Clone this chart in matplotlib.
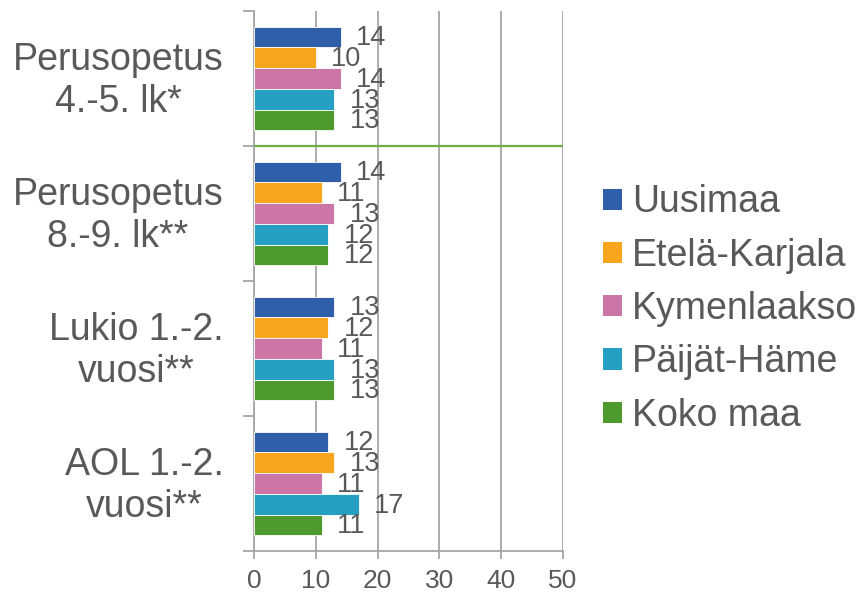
import matplotlib
matplotlib.use("Agg")
import matplotlib.pyplot as plt
from matplotlib.patches import Patch
import numpy as np

categories = ["Perusopetus\n4.-5. lk*", "Perusopetus\n8.-9. lk**", "Lukio 1.-2.\nvuosi**", "AOL 1.-2.\nvuosi**"]
series_names = ["Uusimaa", "Etelä-Karjala", "Kymenlaakso", "Päijät-Häme", "Koko maa"]
uusimaa = [14, 14, 13, 12]
etela_karjala = [10, 11, 12, 13]
kymenlaakso = [14, 13, 11, 11]
paijat_hame = [13, 12, 13, 17]
koko_maa = [13, 12, 13, 11]
series_values = [uusimaa, etela_karjala, kymenlaakso, paijat_hame, koko_maa]
colors = ["#2e5fa8", "#f7a51c", "#cc76a8", "#25a0c2", "#4f9a2f"]
xticks = [0, 10, 20, 30, 40, 50]

plt.rcParams['font.family'] = ['Liberation Sans', 'DejaVu Sans']
text_color = "#595959"
grid_color = "#a6a6a6"

W, H = 858, 592
fig = plt.figure(figsize=(W / 100, H / 100), dpi=100)
ax = fig.add_axes([254 / W, 1 - 551 / H, (563 - 254) / W, (551 - 11) / H])

n = len(series_names)
h = 0.154
y = np.arange(len(categories))
for i, (name, vals, col) in enumerate(zip(series_names, series_values, colors)):
    pos = y + (i - (n - 1) / 2) * h
    ax.barh(pos, vals, height=h, color=col, edgecolor="#ffffff", linewidth=0.6, zorder=3)
    for p, v in zip(pos, vals):
        ax.annotate(str(v), xy=(v, p), xytext=(11, -1), textcoords="offset points",
                    ha="left", va="center", fontsize=19.5, color=text_color, zorder=4)

ax.set_xlim(0, 50)
ax.set_ylim(len(categories) - 0.5, -0.5)
ax.set_xticks(xticks)
ax.set_xticklabels([str(t) for t in xticks])
ax.tick_params(axis="x", length=6, width=1.3, color=grid_color, labelsize=19,
               labelcolor=text_color, pad=7)
ax.set_yticks(np.arange(len(categories) + 1) - 0.5)
ax.set_yticklabels([])
ax.tick_params(axis="y", length=8, width=1.3, color=grid_color)
ax.grid(axis="x", color=grid_color, linewidth=1.3, zorder=0)
for s in ["top", "right"]:
    ax.spines[s].set_visible(False)
for s in ["left", "bottom"]:
    ax.spines[s].set_color(grid_color)
    ax.spines[s].set_linewidth(1.3)

ax.axhline(0.5, color="#70ad47", linewidth=1.6, zorder=5)

for yi, cat in zip(y, categories):
    ax.annotate(cat, xy=(0, yi), xycoords=("axes fraction", "data"), xytext=(-22, -2),
                textcoords="offset points", ha="right", va="center", multialignment="center",
                fontsize=27, color=text_color, linespacing=1.23)

handles = [Patch(facecolor=c, edgecolor="none") for c in colors]
fig.legend(handles, series_names, loc="center left", bbox_to_anchor=(603 / W, 1 - 309 / H),
           frameon=False, fontsize=27, labelcolor=text_color, handlelength=0.5, handleheight=0.5,
           handletextpad=0.27, labelspacing=0.46, borderaxespad=0, borderpad=0)

fig.savefig("out.png", dpi=100)
